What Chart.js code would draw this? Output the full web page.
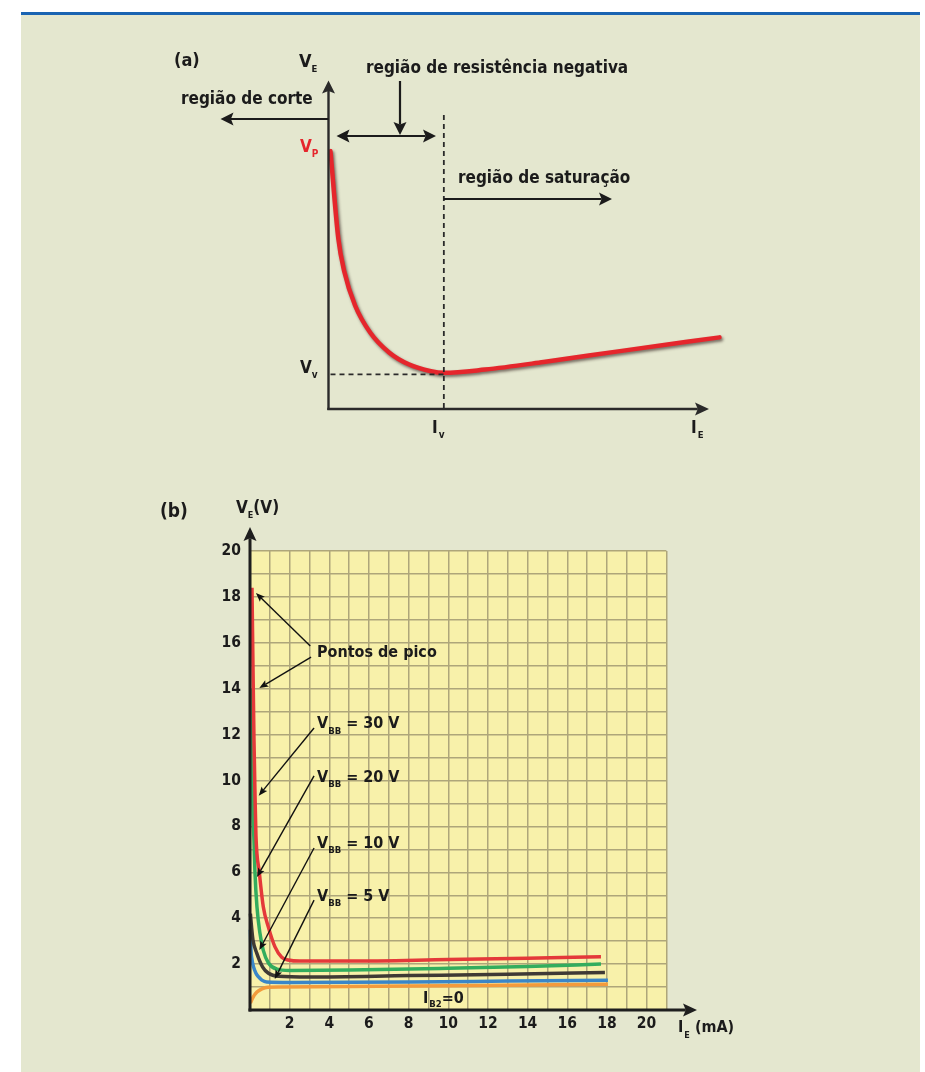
<!DOCTYPE html>
<html><head><meta charset="utf-8">
<script src="https://cdn.jsdelivr.net/npm/chart.js@4.4.1/dist/chart.umd.min.js"></script>
<style>
html,body{margin:0;padding:0;background:#fff;width:925px;height:1072px;overflow:hidden}
#panel{position:absolute;left:21px;top:12px;width:899px;height:1060px;background:#e4e7cf;border-top:3px solid #1a64b2;box-sizing:border-box}
canvas{position:absolute;left:0}
#ca{top:0}
#cb{top:470px}
</style></head><body>
<div id="panel"></div>
<canvas id="ca" width="925" height="470"></canvas>
<canvas id="cb" width="925" height="602"></canvas>
<script>
// ---------- DATA: chart (a) UJT characteristic (arbitrary units) ----------
const curveA_I = [0.05, 0.25, 0.4, 0.68, 1.07, 1.55, 2.05, 2.62, 2.95, 4.0, 5.5, 7.5, 10];
const curveA_V = [7.85, 5.2, 4.2, 3.15, 2.32, 1.72, 1.36, 1.15, 1.1, 1.2, 1.43, 1.77, 2.18];
const valleyI = 2.95, valleyV = 1.1;

// ---------- DATA: chart (b) family of curves ----------
const seriesNames = ['VBB = 30 V', 'VBB = 20 V', 'VBB = 10 V', 'VBB = 5 V', 'IB2 = 0'];
const IE_30 = [0.1, 0.15, 0.2, 0.25, 0.3, 0.47, 0.67, 0.93, 1.26, 1.6, 1.93, 2.5, 5, 10, 14, 17.7];
const VE_30 = [18.4, 15, 11.8, 9.5, 7.6, 6.0, 4.5, 3.6, 2.75, 2.3, 2.18, 2.13, 2.13, 2.2, 2.26, 2.32];
const IE_20 = [0.05, 0.1, 0.15, 0.2, 0.25, 0.35, 0.5, 0.67, 0.93, 1.36, 2, 5, 10, 14, 17.7];
const VE_20 = [14, 11, 8.5, 7.4, 6.0, 4.5, 3.35, 2.6, 2.05, 1.78, 1.72, 1.74, 1.82, 1.9, 2.0];
const IE_10 = [0.02, 0.08, 0.15, 0.34, 0.64, 0.93, 1.43, 3, 8, 13, 17.9];
const VE_10 = [4.2, 3.6, 3.05, 2.48, 1.87, 1.6, 1.47, 1.44, 1.5, 1.56, 1.63];
const IE_5 = [0.02, 0.05, 0.1, 0.17, 0.3, 0.42, 0.6, 0.84, 2, 8, 13, 18.05];
const VE_5 = [3.5, 2.6, 2.2, 1.9, 1.6, 1.45, 1.3, 1.22, 1.2, 1.22, 1.26, 1.3];
const IE_0 = [0.02, 0.15, 0.35, 0.6, 0.9, 1.5, 5, 10, 18.05];
const VE_0 = [0.3, 0.55, 0.78, 0.92, 0.99, 1.0, 1.02, 1.06, 1.12];
const xTickLabels = [2, 4, 6, 8, 10, 12, 14, 16, 18, 20];
const yTickLabels = [2, 4, 6, 8, 10, 12, 14, 16, 18, 20];

const F = "'DejaVu Sans Condensed','DejaVu Sans',sans-serif";
const INK = '#1b1b1b';
const RED = '#e5262c';

function pts(xs, ys){ return xs.map((x,i)=>({x:x, y:ys[i]})); }
function head(ctx,x,y,a,hl,hw){
  const c=Math.cos(a), s=Math.sin(a);
  ctx.beginPath(); ctx.moveTo(x,y);
  ctx.lineTo(x-c*hl - s*hw, y - s*hl + c*hw);
  ctx.lineTo(x-c*hl*0.8, y - s*hl*0.8);
  ctx.lineTo(x-c*hl + s*hw, y - s*hl - c*hw);
  ctx.closePath(); ctx.fill();
}
function arrow(ctx,x1,y1,x2,y2,lw,hl,hw,both){
  const a=Math.atan2(y2-y1,x2-x1), c=Math.cos(a), s=Math.sin(a);
  ctx.lineWidth=lw; ctx.beginPath();
  const sx = both? x1+c*hl*0.8 : x1, sy = both? y1+s*hl*0.8 : y1;
  ctx.moveTo(sx,sy); ctx.lineTo(x2-c*hl*0.8, y2-s*hl*0.8); ctx.stroke();
  head(ctx,x2,y2,a,hl,hw); if(both) head(ctx,x1,y1,a+Math.PI,hl,hw);
}
function rich(ctx, x, y, parts){
  let cx = x;
  ctx.textAlign='left'; ctx.textBaseline='alphabetic';
  for (const p of parts){
    ctx.font = 'bold ' + p[1] + 'px ' + F;
    ctx.fillStyle = p[3] || INK;
    ctx.fillText(p[0], cx, y + (p[2]||0));
    cx += ctx.measureText(p[0]).width + (p[4]||0);
  }
}

// ---------- Chart (a) ----------
const shadowPlugin = {
  id:'shadowA',
  beforeDatasetDraw(chart){ const c=chart.ctx; c.save(); c.shadowColor='rgba(30,10,10,0.55)'; c.shadowBlur=3; c.shadowOffsetX=1.5; c.shadowOffsetY=2; },
  afterDatasetDraw(chart){ chart.ctx.restore(); }
};
const decoA = {
  id:'decoA',
  afterDraw(chart){
    const ctx = chart.ctx, xs = chart.scales.x, ys = chart.scales.y;
    const x0 = xs.getPixelForValue(0), y0 = ys.getPixelForValue(0);
    const xv = xs.getPixelForValue(valleyI), yv = ys.getPixelForValue(valleyV);
    ctx.save();
    ctx.strokeStyle = '#2a2a2a'; ctx.fillStyle = '#2a2a2a';
    arrow(ctx, x0, y0+1, x0, 80.5, 2.4, 13, 6.5);
    arrow(ctx, x0-1.2, y0, 709, y0, 2.4, 14, 6.5);
    ctx.setLineDash([5,4]); ctx.lineWidth = 1.8;
    ctx.beginPath(); ctx.moveTo(xv, 115); ctx.lineTo(xv, y0); ctx.stroke();
    ctx.beginPath(); ctx.moveTo(x0+2, yv+1.5); ctx.lineTo(xv, yv+1.5); ctx.stroke();
    ctx.setLineDash([]);
    ctx.strokeStyle = INK; ctx.fillStyle = INK;
    arrow(ctx, x0, 119, 220.5, 119, 2.2, 13, 6.5);
    arrow(ctx, 400, 81, 400, 135, 2.2, 13, 6.5);
    arrow(ctx, 336.5, 136, 436, 136, 2.2, 13, 6.5, true);
    arrow(ctx, xv, 199, 612, 199, 2.2, 13, 6.5);
    rich(ctx, 174, 65.5, [['(a)', 18]]);
    rich(ctx, 299, 66.7, [['V', 18], ['E', 9.5, 5.5]]);
    rich(ctx, 181, 104, [['região de corte', 17]]);
    rich(ctx, 366, 72.5, [['região de resistência negativa', 17]]);
    rich(ctx, 458, 183, [['região de saturação', 17]]);
    rich(ctx, 300, 151.7, [['V', 17, 0, RED], ['P', 10, 5, RED]]);
    rich(ctx, 300, 373.3, [['V', 17], ['v', 10, 4.5]]);
    rich(ctx, 432, 433, [['I', 17, 0, INK, 1], ['v', 10, 4.5]]);
    rich(ctx, 691, 433, [['I', 17, 0, INK, 1], ['E', 9.5, 5]]);
    ctx.restore();
  }
};
new Chart(document.getElementById('ca'), {
  type:'line',
  data:{ datasets:[{ data: pts(curveA_I, curveA_V), borderColor: RED, borderWidth: 4.5, pointRadius:0, cubicInterpolationMode:'monotone', clip:false, borderCapStyle:'round' }]},
  options:{
    responsive:false, animation:false, devicePixelRatio:1,
    layout:{ padding:{ left:328.5, right:205.5, top:80.5, bottom:61 } },
    plugins:{ legend:{display:false}, tooltip:{enabled:false} },
    scales:{
      x:{ type:'linear', min:0, max:10, display:false },
      y:{ type:'linear', min:0, max:10, display:false }
    }
  },
  plugins:[shadowPlugin, decoA]
});

// ---------- Chart (b) ----------
const bgB = {
  id:'bgB',
  beforeDraw(chart){
    const a = chart.chartArea, ctx = chart.ctx;
    ctx.save(); ctx.fillStyle = '#f8f1aa'; ctx.fillRect(a.left, a.top, a.right-a.left, a.bottom-a.top); ctx.restore();
  }
};
const decoB = {
  id:'decoB',
  afterDraw(chart){
    const ctx = chart.ctx, xs = chart.scales.x, ys = chart.scales.y;
    const P = (x,y)=>[xs.getPixelForValue(x), ys.getPixelForValue(y)];
    const x0 = xs.getPixelForValue(0), y0 = ys.getPixelForValue(0);
    ctx.save();
    ctx.strokeStyle = '#1e1e1e'; ctx.fillStyle = '#1e1e1e';
    arrow(ctx, x0, y0+1.5, x0, 527-470, 3, 14, 6.5);
    arrow(ctx, x0-1.5, y0, 697, y0, 3, 14, 6.5);
    const arr = [
      [3.04,15.86, 0.3,18.17],
      [3.08,15.38, 0.47,14.03],
      [3.23,12.29, 0.44,9.34],
      [3.23,10.2, 0.35,5.79],
      [3.23,7.06, 0.47,2.61],
      [3.23,4.79, 1.25,1.35]
    ];
    ctx.strokeStyle = '#111'; ctx.fillStyle = '#111';
    for (const a of arr){ const p1=P(a[0],a[1]), p2=P(a[2],a[3]); arrow(ctx, p1[0],p1[1],p2[0],p2[1], 1.4, 9, 3.6); }
    rich(ctx, 160, 517-470, [['(b)', 19]]);
    rich(ctx, 236, 513.3-470, [['V', 17], ['E', 9, 5], ['(V)', 17]]);
    const p = P(3.38, 15.64);
    rich(ctx, p[0], 657.3-470, [['Pontos de pico', 16]]);
    rich(ctx, p[0], 728.3-470, [['V', 16], ['BB', 9.5, 5.5], [' = 30 V', 16]]);
    rich(ctx, p[0], 781.7-470, [['V', 16], ['BB', 9.5, 5.5], [' = 20 V', 16]]);
    rich(ctx, p[0], 847.7-470, [['V', 16], ['BB', 9.5, 5.5], [' = 10 V', 16]]);
    rich(ctx, p[0], 900.7-470, [['V', 16], ['BB', 9.5, 5.5], [' = 5 V', 16]]);
    rich(ctx, 423, 1002.7-470, [['I', 16, 0, INK, 1], ['B2', 9.5, 4.5], ['=0', 16]]);
    rich(ctx, 678, 1031.7-470, [['I', 16, 0, INK, 1], ['E', 9, 6], [' (mA)', 16]]);
    ctx.restore();
  }
};
const colorsB = ['#e4393a', '#33ad5e', '#3f3a35', '#3a86c8', '#f39b3c'];
const dataB = [pts(IE_30,VE_30), pts(IE_20,VE_20), pts(IE_10,VE_10), pts(IE_5,VE_5), pts(IE_0,VE_0)];
new Chart(document.getElementById('cb'), {
  type:'line',
  data:{ datasets: dataB.map((d,i)=>({ label: seriesNames[i], data:d, borderColor: colorsB[i], borderWidth:3.5, pointRadius:0, cubicInterpolationMode:'monotone', clip:false, borderCapStyle:'butt' })) },
  options:{
    responsive:false, animation:false, devicePixelRatio:1,
    layout:{ padding:{ left:0, right:258.6, top:81, bottom:0 } },
    plugins:{ legend:{display:false}, tooltip:{enabled:false} },
    scales:{
      x:{ type:'linear', min:0, max:21,
          ticks:{ stepSize:1, autoSkip:false, maxRotation:0, padding:5, color:INK, font:{family:F, size:15.5, weight:'bold'},
                  callback:(v)=> xTickLabels.includes(v) ? String(v) : '' },
          grid:{ color:'#aea67a', lineWidth:1.5, drawTicks:false }, border:{display:false},
          afterFit(s){ s.height = 62; } },
      y:{ type:'linear', min:0, max:20,
          ticks:{ stepSize:1, autoSkip:false, padding:9, color:INK, font:{family:F, size:15.5, weight:'bold'},
                  callback:(v)=> yTickLabels.includes(v) ? String(v) : '' },
          grid:{ color:'#aea67a', lineWidth:1.5, drawTicks:false }, border:{display:false},
          afterFit(s){ s.height = s.height; s.width = 250; } }
    }
  },
  plugins:[bgB, decoB]
});
</script></body></html>
